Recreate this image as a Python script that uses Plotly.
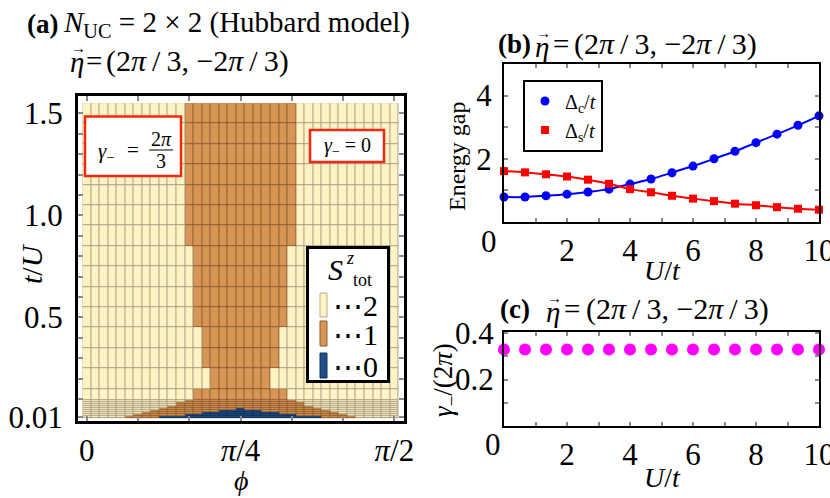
import numpy as np
import plotly.graph_objects as go

W, H = 830, 498
FONT = "Liberation Serif, DejaVu Serif, serif"


def px(x):
    return x / W


def py(y):
    return 1 - y / H


# ---------------- panel (a): phase diagram ----------------
phi_deg = [i * 2.5 for i in range(37)]            # phi grid, 0 .. 90 deg
phi = [np.deg2rad(d) for d in phi_deg]
t_over_U = [0.01, 0.02, 0.03, 0.04, 0.05, 0.06, 0.07, 0.08, 0.09,
            0.1, 0.2, 0.3, 0.4, 0.5, 0.6, 0.7, 0.8, 0.9, 1.0,
            1.1, 1.2, 1.3, 1.4, 1.5]
# half-width (grid columns around phi = pi/4) of the S=1 and S=0 regions per row
spin1_halfwidth = [13, 12, 11, 10, 9, 8, 7, 7, 6,
                   5, 3, 4, 4, 5, 5, 5, 5, 6, 6,
                   6, 6, 6, 6, 6]
spin0_halfwidth = [9, 6, 4, 2, 0, -1, -1, -1, -1,
                   -1, -1, -1, -1, -1, -1, -1, -1, -1, -1,
                   -1, -1, -1, -1, -1]
center_col = 18
S_tot = []
for h1, h0 in zip(spin1_halfwidth, spin0_halfwidth):
    row = []
    for k in range(len(phi)):
        d = abs(k - center_col)
        row.append(0 if d <= h0 else (1 if d <= h1 else 2))
    S_tot.append(row)

# ---------------- panel (b): energy gaps ----------------
U_t = [0, 0.667, 1.333, 2, 2.667, 3.333, 4, 4.667, 5.333, 6,
       6.667, 7.333, 8, 8.667, 9.333, 10]
delta_c = [0.79, 0.79, 0.83, 0.88, 0.95, 1.04, 1.20, 1.36, 1.56, 1.77,
           2.00, 2.24, 2.51, 2.78, 3.06, 3.36]
delta_s = [1.61, 1.57, 1.51, 1.44, 1.34, 1.21, 1.04, 0.94, 0.83, 0.74,
           0.66, 0.58, 0.53, 0.47, 0.42, 0.39]

# ---------------- panel (c): gamma_- / (2 pi) ----------------
gamma_minus = [0.33, 0.33, 0.33, 0.33, 0.33, 0.33, 0.33, 0.33,
               0.33, 0.33, 0.33, 0.33, 0.33, 0.33, 0.33, 0.33]

CREAM, BROWN, BLUE = "#fff2c4", "#d79655", "#1f4f86"
cs_light = [[0, BLUE], [0.5, BROWN], [1, CREAM]]
cs_dark = [[0, "#10305a"], [0.5, "#8f5c2e"], [1, "#a89d80"]]

fig = go.Figure()
fig.add_trace(go.Heatmap(x=phi, y=t_over_U, z=S_tot, colorscale=cs_dark,
                         zmin=0, zmax=2, showscale=False, hoverinfo="skip",
                         xaxis="x", yaxis="y"))
fig.add_trace(go.Heatmap(x=phi, y=t_over_U, z=S_tot, colorscale=cs_light,
                         zmin=0, zmax=2, showscale=False, hoverinfo="skip",
                         xgap=1, ygap=1, xaxis="x", yaxis="y"))

# panel (b)
fig.add_trace(go.Scatter(x=U_t, y=delta_c, mode="lines", line=dict(color="#0000ff", width=2, shape="spline"),
                         showlegend=False, xaxis="x2", yaxis="y2", cliponaxis=False))
fig.add_trace(go.Scatter(x=U_t, y=delta_s, mode="lines", line=dict(color="#ff0000", width=2, shape="spline"),
                         showlegend=False, xaxis="x2", yaxis="y2", cliponaxis=False))
fig.add_trace(go.Scatter(x=U_t, y=delta_c, mode="markers", name="Δ<sub>c</sub>/<i>t</i>",
                         marker=dict(color="#0000ff", size=9, symbol="circle"),
                         xaxis="x2", yaxis="y2", cliponaxis=False))
fig.add_trace(go.Scatter(x=U_t, y=delta_s, mode="markers", name="Δ<sub>s</sub>/<i>t</i>",
                         marker=dict(color="#ff0000", size=8, symbol="square"),
                         xaxis="x2", yaxis="y2", cliponaxis=False))
# panel (c)
fig.add_trace(go.Scatter(x=U_t, y=gamma_minus, mode="markers", showlegend=False,
                         marker=dict(color="#ff00ff", size=12), xaxis="x3", yaxis="y3",
                         cliponaxis=False))

tickfont = dict(family=FONT, size=31, color="black")
common = dict(showgrid=False, zeroline=False, showline=True, linecolor="black",
              mirror="all", ticks="inside", tickcolor="#8a8a8a", tickfont=tickfont,
              automargin=False, ticklabeloverflow="allow")

pi = np.pi
fig.update_layout(
    width=W, height=H, margin=dict(l=0, r=0, t=0, b=0, autoexpand=False), autosize=False,
    paper_bgcolor="white", plot_bgcolor="white",
    font=dict(family=FONT, color="black"),
    xaxis=dict(domain=[px(78), px(404)], range=[-0.0444, 1.6203], anchor="y",
               tickmode="array", tickvals=[i * pi / 12 for i in range(7)],
               ticktext=["0", "", "", "<i>π</i>/4", "", "", "<i>π</i>/2"],
               linewidth=3, ticklen=5, tickwidth=2, **common),
    yaxis=dict(domain=[py(421), py(96)], range=[-0.008, 1.585], anchor="x",
               tickmode="array", tickvals=[0.01] + [round(0.1 * i, 1) for i in range(1, 16)],
               ticktext=["0.01", "", "", "", "", "0.5", "", "", "", "", "1.0", "", "", "", "", "1.5"],
               linewidth=3, ticklen=5, tickwidth=2, ticklabelstandoff=6, **common),
    xaxis2=dict(domain=[px(504), px(819)], range=[0, 10], anchor="y2",
                tickmode="array", tickvals=list(range(11)),
                ticktext=["", "", "2", "", "4", "", "6", "", "8", "", "10"],
                linewidth=2, ticklen=4, tickwidth=1.5, **common),
    yaxis2=dict(domain=[py(222), py(64)], range=[0, 5], anchor="x2",
                tickmode="array", tickvals=[0, 1, 2, 3, 4, 5],
                ticktext=["", "", "2", "", "4", ""],
                linewidth=2, ticklen=4, tickwidth=1.5, ticklabelstandoff=4, **common),
    xaxis3=dict(domain=[px(504), px(819)], range=[0, 10], anchor="y3",
                tickmode="array", tickvals=list(range(11)),
                ticktext=["", "", "2", "", "4", "", "6", "", "8", "", "10"],
                linewidth=2, ticklen=4, tickwidth=1.5, **common),
    yaxis3=dict(domain=[py(426), py(332)], range=[0, 0.405], anchor="x3",
                tickmode="array", tickvals=[0, 0.1, 0.2, 0.3, 0.4],
                ticktext=["", "", "0.2", "", "0.4"],
                linewidth=2, ticklen=4, tickwidth=1.5, ticklabelstandoff=2, **common),
    legend=dict(x=px(523), y=py(79.5), xanchor="left", yanchor="top",
                bgcolor="white", bordercolor="black", borderwidth=2,
                font=dict(family=FONT, size=20), itemwidth=30, tracegroupgap=0),
)

shapes = []
# S_tot legend box in panel (a)
shapes.append(dict(type="rect", xref="paper", yref="paper", x0=px(307.5), x1=px(388.5),
                   y0=py(381.5), y1=py(247.5), line=dict(color="black", width=3), fillcolor="white"))
for (col, edge, y0, y1) in [(CREAM, "#b8ad8c", 293, 317), (BROWN, "#8f5c2e", 321, 346), (BLUE, "#10305a", 353, 378)]:
    shapes.append(dict(type="rect", xref="paper", yref="paper", x0=px(320), x1=px(327),
                       y0=py(y1), y1=py(y0), line=dict(color=edge, width=1), fillcolor=col))
# red boxes
shapes.append(dict(type="rect", xref="paper", yref="paper", x0=px(85), x1=px(181),
                   y0=py(176), y1=py(116.5), line=dict(color="#f02a10", width=2.5), fillcolor="white"))
shapes.append(dict(type="line", xref="paper", yref="paper", x0=px(149), x1=px(173),
                   y0=py(150), y1=py(150), line=dict(color="black", width=1)))
shapes.append(dict(type="rect", xref="paper", yref="paper", x0=px(310), x1=px(384),
                   y0=py(162), y1=py(130), line=dict(color="#f02a10", width=2.5), fillcolor="white"))
fig.update_layout(shapes=shapes)


def ann(text, x, y, size, xanchor="center", angle=0):
    return dict(text=text, x=px(x), y=py(y), xref="paper", yref="paper", showarrow=False,
                xanchor=xanchor, yanchor="middle", textangle=angle,
                font=dict(family=FONT, size=size, color="black"))


NB = "\u00a0"
TH = "\u2009"
eta_val = ("(2<i>π</i>" + TH + "/" + TH + "3," + NB +
           "−2<i>π</i>" + TH + "/" + TH + "3)")
annotations = [
    ann("<b>(a)</b>", 25, 24, 27, "left"),
    ann("<i>N</i><sub>UC</sub> = 2 × 2 (Hubbard model)", 61, 24, 29, "left"),
    ann("<i>η</i>", 77, 62, 29),
    ann("→", 78, 48, 15),
    ann("=", 94, 61, 29),
    ann(eta_val, 104, 61, 30, "left"),
    ann("<b>(b)</b>", 496, 44, 27, "left"),
    ann("<i>η</i>", 542, 47, 29),
    ann("→", 543, 33, 15),
    ann("=", 560.5, 44, 29),
    ann(eta_val, 572, 44, 30, "left"),
    ann("<b>(c)</b>", 498, 309, 27, "left"),
    ann("<i>η</i>", 553, 312, 29),
    ann("→", 554, 298, 15),
    ann("=", 571.5, 309, 29),
    ann(eta_val, 584, 309, 30, "left"),
    ann("<i>t</i>/<i>U</i>", 31, 264, 30, angle=-90),
    ann("<i>ϕ</i>", 241, 480, 28),
    ann("Energy gap", 457, 156, 24, angle=-90),
    ann("<i>U</i>/<i>t</i>", 662, 270, 28),
    ann("<i>U</i>/<i>t</i>", 662, 477, 28),
    ann("<i>γ</i><sub>−</sub>/(2<i>π</i>)", 445, 380, 27, angle=-90),
    ann("0", 489, 241, 31),
    ann("0", 493, 444, 31),
    # S_tot legend text
    ann("<i>S</i>", 335, 269, 30),
    ann("<i>z</i>", 350, 258, 18),
    ann("tot", 362, 280, 18),
    ann("⋯2", 331, 305, 30, "left"),
    ann("⋯1", 331, 334, 30, "left"),
    ann("⋯0", 331, 366, 30, "left"),
    # red box texts
    ann("<i>γ</i><sub>−</sub>", 106, 152, 21),
    ann("=", 133, 150, 21),
    ann("2<i>π</i>", 161, 139, 20),
    ann("3", 161, 161, 20),
    ann("<i>γ</i><sub>−</sub> = 0", 347, 146, 20),
]
fig.update_layout(annotations=annotations)

fig.write_html("out.html", config={"displayModeBar": False},
               post_script="document.body.style.margin='0';document.body.style.overflow='hidden';")
